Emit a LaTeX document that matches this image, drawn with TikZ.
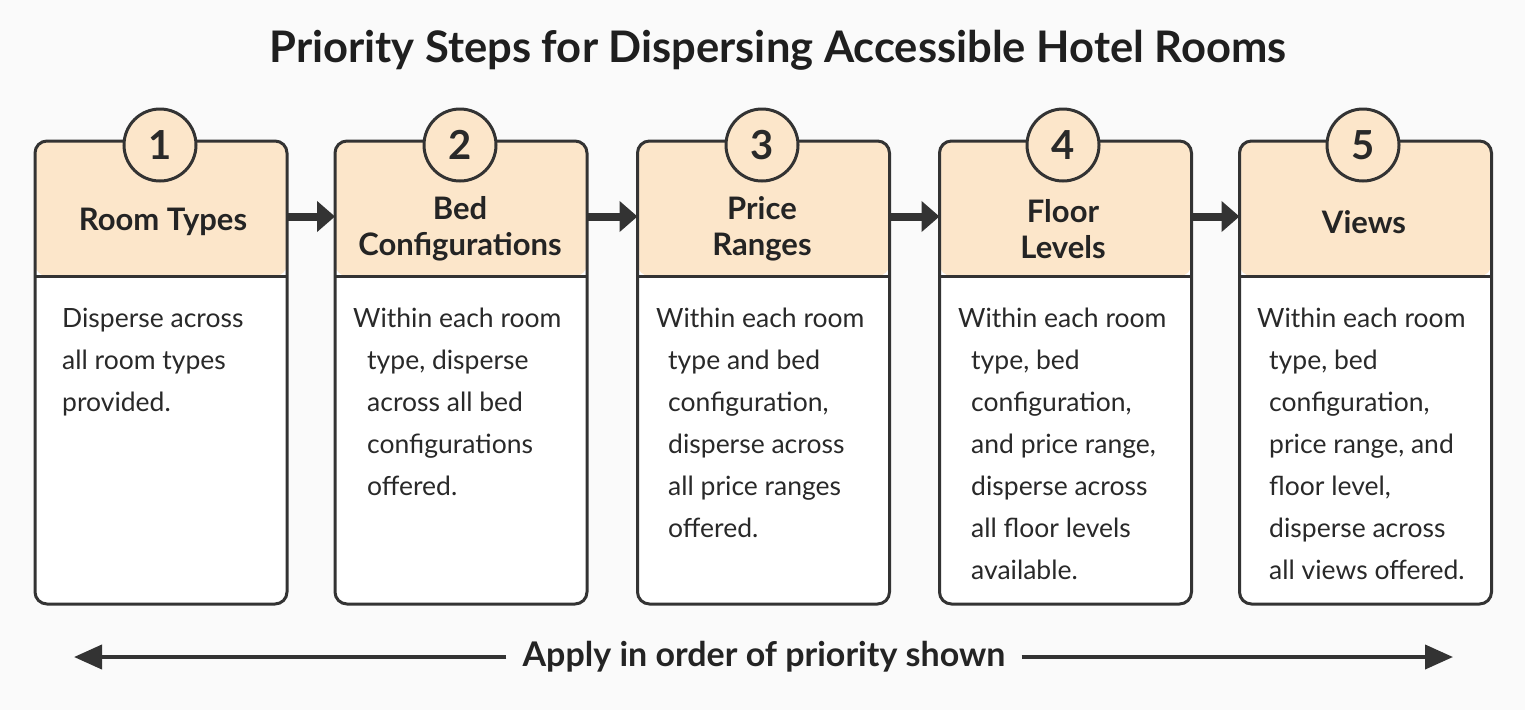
\documentclass[tikz,border=0pt]{standalone}
\usepackage{fontspec}
\setmainfont{Lato}
\usetikzlibrary{arrows.meta}

\definecolor{hdrfill}{HTML}{FCE6CA}
\definecolor{linec}{HTML}{333333}
\definecolor{bgc}{HTML}{FAFAFA}

\begin{document}
\begin{tikzpicture}[x=1pt,y=-1pt,
  box/.style={draw=linec,line width=3pt,rounded corners=12pt,fill=white,
    minimum width=252pt,minimum height=463pt,outer sep=0pt,
    path picture={\fill[hdrfill] (path picture bounding box.north west) rectangle ([yshift=-135pt]path picture bounding box.north east);
      \draw[linec,line width=3pt] ([yshift=-135pt]path picture bounding box.north west) -- ([yshift=-135pt]path picture bounding box.north east);}},
  num node/.style={circle,draw=linec,line width=3pt,fill=hdrfill,minimum size=72pt,inner sep=0pt,
    font=\fontsize{40}{40}\selectfont\bfseries,text=linec!80!black},
  hdr/.style={align=center,font=\fontsize{31}{36}\selectfont\bfseries,text=linec!70!black},
  txt/.style={anchor=north west,align=left,inner sep=0pt,font=\fontsize{26.5}{42}\selectfont,text=linec!80!black},
  step arrow/.style={linec,line width=8pt,-{Triangle[length=18pt,width=30pt]}},
  long arrow/.style={linec,line width=4pt,-{Triangle[length=28pt,width=24pt]}}]

  \fill[bgc] (0,0) rectangle (1525,710);

  \node[font=\fontsize{43.5}{43.5}\selectfont\bfseries,text=linec!60!black] (title) at (778,50) {Priority Steps for Dispersing Accessible Hotel Rooms};

  \node[box] (box1) at (161,372.5) {};
  \node[box] (box2) at (461,372.5) {};
  \node[box] (box3) at (763.5,372.5) {};
  \node[box] (box4) at (1065.5,372.5) {};
  \node[box] (box5) at (1365.5,372.5) {};

  \node[num node] (n1) at (160,145) {1};
  \node[num node] (n2) at (460,145) {2};
  \node[num node] (n3) at (762,145) {3};
  \node[num node] (n4) at (1063,145) {4};
  \node[num node] (n5) at (1363,145) {5};

  \node[hdr] (h1) at (163,222) {Room Types};
  \node[hdr] (h2) at (460,229) {Bed\\Configurations};
  \node[hdr] (h3) at (762,229) {Price\\Ranges};
  \node[hdr] (h4) at (1063,229) {Floor\\Levels};
  \node[hdr] (h5) at (1364,222) {Views};

  \node[txt] (t1) at (62,308) {Disperse across\\all room types\\provided.};
  \node[txt] (t2) at (353,308) {Within each room\\\hspace*{14pt}type, disperse\\\hspace*{14pt}across all bed\\\hspace*{14pt}configurations\\\hspace*{14pt}offered.};
  \node[txt] (t3) at (656,308) {Within each room\\\hspace*{12pt}type and bed\\\hspace*{12pt}configuration,\\\hspace*{12pt}disperse across\\\hspace*{12pt}all price ranges\\\hspace*{12pt}offered.};
  \node[txt] (t4) at (958,308) {Within each room\\\hspace*{13pt}type, bed\\\hspace*{13pt}configuration,\\\hspace*{13pt}and price range,\\\hspace*{13pt}disperse across\\\hspace*{13pt}all floor levels\\\hspace*{13pt}available.};
  \node[txt] (t5) at (1257,308) {Within each room\\\hspace*{12pt}type, bed\\\hspace*{12pt}configuration,\\\hspace*{12pt}price range, and\\\hspace*{12pt}floor level,\\\hspace*{12pt}disperse across\\\hspace*{12pt}all views offered.};

  \draw[step arrow] ([yshift=156pt]box1.east) -- ([yshift=156pt]box2.west);
  \draw[step arrow] ([yshift=156pt]box2.east) -- ([yshift=156pt]box3.west);
  \draw[step arrow] ([yshift=156pt]box3.east) -- ([yshift=156pt]box4.west);
  \draw[step arrow] ([yshift=156pt]box4.east) -- ([yshift=156pt]box5.west);

  \node[font=\fontsize{34}{34}\selectfont\bfseries,text=linec!70!black,inner xsep=16pt] (apply) at (764,657) {Apply in order of priority shown};
  \coordinate (left end) at (74,657);
  \coordinate (right end) at (1453,657);
  \draw[long arrow] (apply) -- (left end);
  \draw[long arrow] (apply) -- (right end);
\end{tikzpicture}
\end{document}
